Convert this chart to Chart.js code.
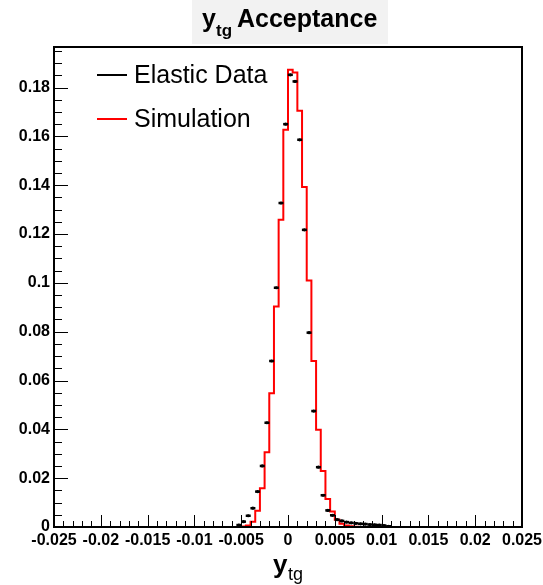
<!DOCTYPE html>
<html>
<head>
<meta charset="utf-8">
<title>ytg Acceptance</title>
<script src="https://cdn.jsdelivr.net/npm/chart.js@4.4.1/dist/chart.umd.min.js"></script>
<style>
  html, body { margin: 0; padding: 0; background: #fff; }
  canvas { display: block; }
</style>
</head>
<body>
<canvas id="accChart" width="543" height="585"></canvas>
<script>
// bin edges of the y_tg histograms (width 0.0005)
const binEdges = [-0.0055, -0.005, -0.0045, -0.004, -0.0035, -0.003, -0.0025, -0.002, -0.0015, -0.001,
  -0.0005, 0, 0.0005, 0.001, 0.0015, 0.002, 0.0025, 0.003, 0.0035, 0.004,
  0.0045, 0.005, 0.0055, 0.006, 0.0065, 0.007, 0.0075, 0.008, 0.0085, 0.009,
  0.0095, 0.01, 0.0105, 0.011];

// normalised counts per bin
const elasticData = [0.0008, 0.0022, 0.0046, 0.0077, 0.0145, 0.025, 0.0427, 0.068, 0.098, 0.1327,
  0.165, 0.1852, 0.1825, 0.1586, 0.1217, 0.0796, 0.0475, 0.0245, 0.013, 0.0068,
  0.0048, 0.003, 0.0025, 0.002, 0.0017, 0.0015, 0.0013, 0.0012, 0.001, 0.0009,
  0.0008, 0.0006, 0.0003];

const simulation = [0, 0.0002, 0.0006, 0.0022, 0.0067, 0.0159, 0.0306, 0.0548, 0.0903, 0.1258,
  0.1627, 0.1873, 0.1862, 0.1705, 0.1393, 0.101, 0.068, 0.0398, 0.0229, 0.0115,
  0.0063, 0.003, 0.0013, 0.0006, 0.0003, 0.0001, 0, 0, 0, 0,
  0, 0, 0];

// axis ticks
const xTicks = [-0.025, -0.02, -0.015, -0.01, -0.005, 0, 0.005, 0.01, 0.015, 0.02, 0.025];
const xTickLabels = ["-0.025", "-0.02", "-0.015", "-0.01", "-0.005", "0", "0.005", "0.01", "0.015", "0.02", "0.025"];
const yTicks = [0, 0.02, 0.04, 0.06, 0.08, 0.1, 0.12, 0.14, 0.16, 0.18];
const yTickLabels = ["0", "0.02", "0.04", "0.06", "0.08", "0.1", "0.12", "0.14", "0.16", "0.18"];

const FONT = '"Liberation Sans", Arial, Helvetica, sans-serif';

// step outline for the simulation histogram
const simPoints = [{ x: binEdges[0], y: 0 }];
simulation.forEach((v, i) => simPoints.push({ x: binEdges[i], y: v }));
const last = binEdges.length - 1;
simPoints.push({ x: binEdges[last], y: simulation[simulation.length - 1] });
simPoints.push({ x: binEdges[last], y: 0 });

// data points at bin centres
const dataPoints = elasticData.map((v, i) => ({ x: (binEdges[i] + binEdges[i + 1]) / 2, y: v }));

// ROOT-like frame, ticks, title, legend and axis title
const rootStyle = {
  id: "rootStyle",
  afterDraw(chart) {
    const ctx = chart.ctx;
    const a = chart.chartArea;
    const xs = chart.scales.x, ys = chart.scales.y;
    ctx.save();
    ctx.strokeStyle = "#000";

    // ticks
    ctx.lineWidth = 1;
    ctx.beginPath();
    for (let k = -25; k <= 25; k++) {
      const px = Math.round(xs.getPixelForValue(k / 1000)) + 0.5;
      const len = (k % 5 === 0) ? 12 : 6;
      ctx.moveTo(px, a.bottom);
      ctx.lineTo(px, a.bottom - len);
    }
    for (let k = 0; k * 0.005 <= ys.max + 1e-9; k++) {
      const py = Math.round(ys.getPixelForValue(k * 0.005)) + 0.5;
      const len = (k % 4 === 0) ? 14 : 8;
      ctx.moveTo(a.left, py);
      ctx.lineTo(a.left + len, py);
    }
    ctx.stroke();

    // frame
    ctx.lineWidth = 2;
    ctx.strokeRect(a.left, a.top, a.right - a.left, a.bottom - a.top);

    // title box
    ctx.fillStyle = "#f2f2f2";
    ctx.fillRect(192, 0, 196, 44);
    ctx.fillStyle = "#000";
    ctx.textBaseline = "alphabetic";
    ctx.textAlign = "left";
    ctx.font = "bold 25px " + FONT;
    ctx.fillText("y", 202, 27);
    ctx.font = "bold 17px " + FONT;
    ctx.fillText("tg", 216, 36);
    ctx.font = "bold 25px " + FONT;
    ctx.fillText("Acceptance", 237, 27);

    // x axis title
    ctx.font = "bold 26px " + FONT;
    ctx.fillText("y", 273, 573);
    ctx.font = "18px " + FONT;
    ctx.fillText("tg", 288, 580);

    // legend
    ctx.lineWidth = 2;
    ctx.beginPath();
    ctx.moveTo(97, 75); ctx.lineTo(127, 75);
    ctx.stroke();
    ctx.strokeStyle = "#ff0000";
    ctx.beginPath();
    ctx.moveTo(97, 119); ctx.lineTo(127, 119);
    ctx.stroke();
    ctx.font = "25px " + FONT;
    ctx.fillText("Elastic Data", 134, 83);
    ctx.fillText("Simulation", 134, 127);
    ctx.restore();
  }
};

new Chart(document.getElementById("accChart"), {
  type: "scatter",
  data: {
    datasets: [
      {
        label: "Simulation",
        type: "line",
        data: simPoints,
        stepped: true,
        borderColor: "#ff0000",
        borderWidth: 2,
        pointRadius: 0,
        fill: false,
        order: 2
      },
      {
        label: "Elastic Data",
        data: dataPoints,
        pointStyle: "line",
        pointRadius: 2.5,
        pointBorderWidth: 2.5,
        pointBorderColor: "#000",
        pointBackgroundColor: "#000",
        order: 1
      },
      {
        label: "markers",
        data: dataPoints,
        pointStyle: "circle",
        pointRadius: 1.6,
        pointBorderWidth: 0,
        pointBackgroundColor: "#000",
        order: 0
      }
    ]
  },
  options: {
    responsive: false,
    animation: false,
    layout: { padding: { top: 47, right: 21, left: 0, bottom: 0 } },
    plugins: {
      legend: { display: false },
      title: { display: false },
      tooltip: { enabled: false }
    },
    scales: {
      x: {
        type: "linear",
        min: -0.025,
        max: 0.025,
        grid: { display: false, drawTicks: false },
        border: { display: false },
        afterBuildTicks: (scale) => { scale.ticks = xTicks.map(v => ({ value: v })); },
        afterFit: (scale) => { scale.height = 58; scale.paddingLeft = 0; scale.paddingRight = 0; },
        ticks: {
          autoSkip: false,
          maxRotation: 0,
          padding: 4,
          color: "#000",
          font: { family: FONT, size: 16, weight: "bold" },
          callback: (v, i) => xTickLabels[i]
        }
      },
      y: {
        type: "linear",
        min: 0,
        max: 0.1966,
        grid: { display: false, drawTicks: false },
        border: { display: false },
        afterBuildTicks: (scale) => { scale.ticks = yTicks.map(v => ({ value: v })); },
        afterFit: (scale) => { scale.width = 54; scale.paddingTop = 0; scale.paddingBottom = 0; },
        ticks: {
          autoSkip: false,
          padding: 4,
          color: "#000",
          font: { family: FONT, size: 16, weight: "bold" },
          callback: (v, i) => yTickLabels[i]
        }
      }
    }
  },
  plugins: [rootStyle]
});
</script>
</body>
</html>
